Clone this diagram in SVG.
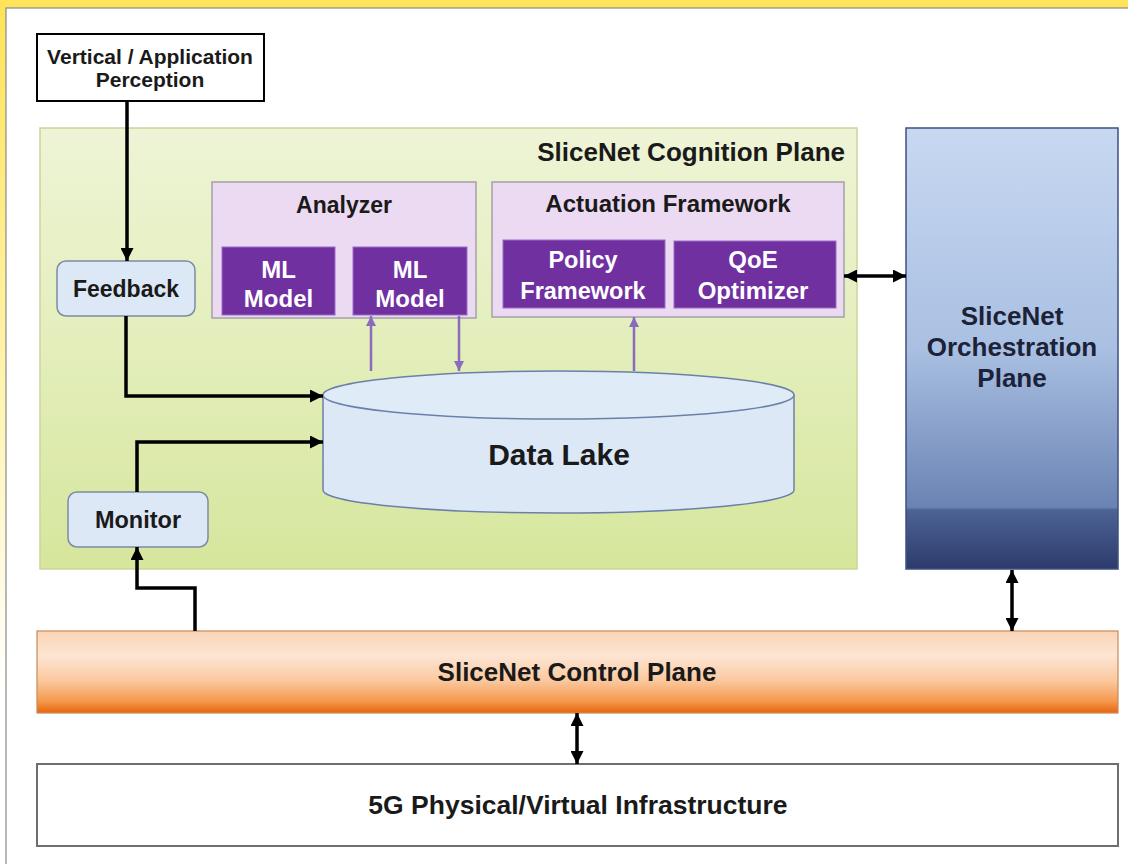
<svg xmlns="http://www.w3.org/2000/svg" width="1128" height="864" viewBox="0 0 1128 864">
<defs>
<linearGradient id="frameG" x1="0" y1="0" x2="0" y2="1">
<stop offset="0" stop-color="#ffe358"/><stop offset="0.45" stop-color="#fff4b0"/><stop offset="0.8" stop-color="#ffffff"/>
</linearGradient>
<linearGradient id="greenG" x1="0" y1="0" x2="0" y2="1">
<stop offset="0" stop-color="#eef4d6"/><stop offset="0.5" stop-color="#e3eebb"/><stop offset="1" stop-color="#d6e69c"/>
</linearGradient>
<linearGradient id="orchG" x1="0" y1="0" x2="0" y2="1">
<stop offset="0" stop-color="#c8d8f1"/><stop offset="0.5" stop-color="#a9c0e2"/><stop offset="0.86" stop-color="#6a83b3"/><stop offset="0.866" stop-color="#4d6394"/><stop offset="1" stop-color="#2c3b6c"/>
</linearGradient>
<linearGradient id="ctrlG" x1="0" y1="0" x2="0" y2="1">
<stop offset="0" stop-color="#f9d4b6"/><stop offset="0.3" stop-color="#fde5d3"/><stop offset="0.6" stop-color="#fbc9a0"/><stop offset="0.85" stop-color="#f49a50"/><stop offset="1" stop-color="#e8650c"/>
</linearGradient>
<marker id="ah" viewBox="0 0 10 10" refX="10" refY="5" markerWidth="13" markerHeight="13" markerUnits="userSpaceOnUse" orient="auto-start-reverse">
<path d="M0,0 L10,5 L0,10 z" fill="#000"/>
</marker>
<marker id="ahp" viewBox="0 0 10 10" refX="10" refY="5" markerWidth="10" markerHeight="10" markerUnits="userSpaceOnUse" orient="auto-start-reverse">
<path d="M0,0 L10,5 L0,10 z" fill="#8a6bbd"/>
</marker>
</defs>
<style>
text{font-family:"Liberation Sans",Arial,sans-serif;font-weight:bold;text-anchor:middle;fill:#1a1a1a}
.w{fill:#ffffff}
.blk{fill:none;stroke:#000;stroke-width:3.5}
.pur{fill:none;stroke:#8a6bbd;stroke-width:2.5}
.lav{fill:#ecd9f2;stroke:#a4a0aa;stroke-width:1.5}
.pbox{fill:#7030a0;stroke:#9b6cc4;stroke-width:1}
.lb{fill:#dde8f7;stroke:#7c8aa2;stroke-width:1.5}
.nav{fill:#1c2238}
</style>
<rect x="0" y="0" width="1128" height="864" fill="url(#frameG)"/>
<rect x="6" y="8" width="1124" height="858" fill="#ffffff" stroke="#8a8a8a" stroke-width="1.2"/>

<g id="cognition-plane">
<rect x="40" y="128" width="817" height="441" fill="url(#greenG)" stroke="#cbd59c" stroke-width="1.5"/>
<text x="845" y="161" font-size="26" style="text-anchor:end">SliceNet Cognition Plane</text>
</g>

<g id="orchestration-plane">
<rect x="906" y="128" width="212" height="441" fill="url(#orchG)" stroke="#3d5080" stroke-width="1.5"/>
<text x="1012" y="325" font-size="26" class="nav">SliceNet</text>
<text x="1012" y="356" font-size="26" class="nav">Orchestration</text>
<text x="1012" y="387" font-size="26" class="nav">Plane</text>
</g>

<g id="control-plane">
<rect x="37" y="631" width="1081" height="82" fill="url(#ctrlG)" stroke="#c98a55" stroke-width="1.2"/>
<text x="577" y="681" font-size="26">SliceNet Control Plane</text>
</g>

<g id="infrastructure">
<rect x="37" y="764" width="1081" height="82" fill="#ffffff" stroke="#6e6e6e" stroke-width="2"/>
<text x="578" y="814" font-size="26.5">5G Physical/Virtual Infrastructure</text>
</g>

<g id="vertical-perception">
<rect x="37" y="34" width="227" height="67" fill="#ffffff" stroke="#000" stroke-width="2"/>
<text x="150" y="64" font-size="21">Vertical / Application</text>
<text x="150" y="87" font-size="21">Perception</text>
</g>

<g id="feedback">
<rect x="57" y="261" width="138" height="55" rx="9" class="lb"/>
<text x="126" y="297" font-size="23">Feedback</text>
</g>

<g id="monitor">
<rect x="68" y="492" width="140" height="55" rx="9" class="lb"/>
<text x="138" y="528" font-size="23.5">Monitor</text>
</g>

<g id="analyzer">
<rect x="212" y="182" width="264" height="136" class="lav"/>
<text x="344" y="213" font-size="23">Analyzer</text>
</g>
<g id="ml-model-1">
<rect x="222" y="247" width="113" height="68" class="pbox"/>
<text x="278.5" y="278" font-size="24" class="w">ML</text>
<text x="278.5" y="307" font-size="24" class="w">Model</text>
</g>
<g id="ml-model-2">
<rect x="353" y="247" width="114" height="68" class="pbox"/>
<text x="410" y="278" font-size="24" class="w">ML</text>
<text x="410" y="307" font-size="24" class="w">Model</text>
</g>

<g id="actuation-framework">
<rect x="492" y="182" width="352" height="135" class="lav"/>
<text x="668" y="212" font-size="24">Actuation Framework</text>
</g>
<g id="policy-framework">
<rect x="503" y="240" width="162" height="68" class="pbox"/>
<text x="583" y="268" font-size="23.5" class="w">Policy</text>
<text x="583" y="299" font-size="23.5" class="w">Framework</text>
</g>
<g id="qoe-optimizer">
<rect x="674" y="241" width="162" height="67" class="pbox"/>
<text x="753" y="268" font-size="24" class="w">QoE</text>
<text x="753" y="299" font-size="24" class="w">Optimizer</text>
</g>

<g id="data-lake">
<path d="M323,395 L323,490 A235.5,23 0 0 0 794,490 L794,395" fill="#dde8f7" stroke="#6b80a8" stroke-width="1.5"/>
<ellipse cx="558.5" cy="395" rx="235.5" ry="24" fill="#e0ebf8" stroke="#6b80a8" stroke-width="1.5"/>
<text x="559" y="465" font-size="30">Data Lake</text>
</g>

<g id="connectors">
<path class="blk" d="M127,101 L127,261" marker-end="url(#ah)"/>
<path class="blk" d="M126,316 L126,396 L323,396" marker-end="url(#ah)"/>
<path class="blk" d="M137,492 L137,442 L323,442" marker-end="url(#ah)"/>
<path class="blk" d="M195,631 L195,588 L137,588 L137,547" marker-end="url(#ah)"/>
<path class="blk" d="M844,276 L906,276" marker-start="url(#ah)" marker-end="url(#ah)"/>
<path class="blk" d="M1012,570 L1012,631" marker-start="url(#ah)" marker-end="url(#ah)"/>
<path class="blk" d="M577,713 L577,764" marker-start="url(#ah)" marker-end="url(#ah)"/>
<path class="pur" d="M371,371 L371,316" marker-end="url(#ahp)"/>
<path class="pur" d="M459,316 L459,371" marker-end="url(#ahp)"/>
<path class="pur" d="M634,371 L634,317" marker-end="url(#ahp)"/>
</g>
</svg>
